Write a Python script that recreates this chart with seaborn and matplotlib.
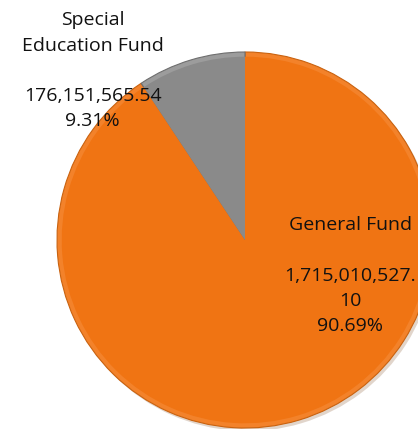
import textwrap
import matplotlib
matplotlib.use("Agg")
import matplotlib.pyplot as plt
import seaborn as sns

# Fund totals
funds = ["General Fund", "Special Education Fund"]
amounts = [1715010527.10, 176151565.54]
fund_colors = ["#F07413", "#8A8A8A"]
bevel_colors = ["#F3822A", "#9C9C9C"]
edge_colors = ["#C9620F", "#6E6E6E"]

sns.set_theme(style="white")
plt.rcParams["font.family"] = ["Open Sans", "DejaVu Sans"]

fig = plt.figure(figsize=(4.18, 4.29), dpi=100)
ax = fig.add_axes([0, 0, 1, 1])

radius_px = 188.0
cx_px, cy_px = 245.0, 240.0
W, H = 418.0, 429.0

# outer ring (bevel) with a soft darker outline and drop shadow
wedges, _ = ax.pie(
    amounts, colors=bevel_colors, startangle=90, counterclock=False,
    radius=1.0, center=(0, 0),
    wedgeprops=dict(edgecolor="none", linewidth=0),
    shadow=dict(ox=0.010, oy=-0.012, shade=0.5, alpha=0.22),
)
for w, ec in zip(wedges, edge_colors):
    w.set_edgecolor(ec)
    w.set_linewidth(0.8)

# main face
ax.pie(
    amounts, colors=fund_colors, startangle=90, counterclock=False,
    radius=0.975, center=(0, 0),
    wedgeprops=dict(edgecolor="none", linewidth=0),
)

ax.set_xlim(-cx_px / radius_px, (W - cx_px) / radius_px)
ax.set_ylim(-(H - cy_px) / radius_px, cy_px / radius_px)
ax.set_aspect("auto")
ax.axis("off")

total = sum(amounts)


def label_text(name, value, name_width):
    name_lines = textwrap.wrap(name, name_width)
    amount_lines = textwrap.wrap(f"{value:,.2f}", 14, break_long_words=True)
    pct = f"{value / total * 100:.2f}%"
    return "\n".join(name_lines + [""] + amount_lines + [pct])


label_pos = [(0.56, -0.19), (-0.81, 0.90)]
name_widths = [20, 14]
for name, val, (x, y), nw in zip(funds, amounts, label_pos, name_widths):
    ax.text(x, y, label_text(name, val, nw), ha="center", va="center",
            fontsize=14.0, color="#111111", linespacing=1.52,
            multialignment="center")

fig.savefig("out.png", dpi=100)
